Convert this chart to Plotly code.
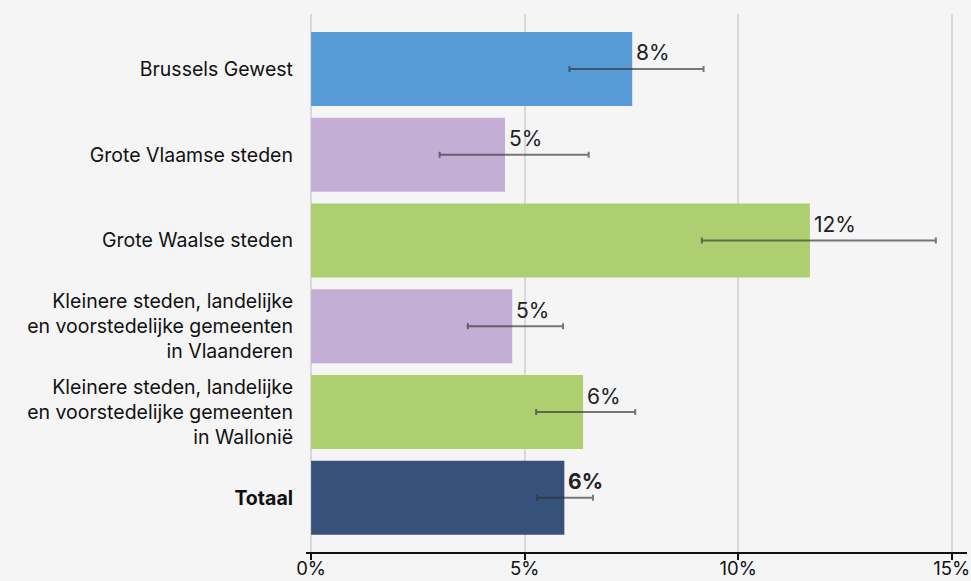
import plotly.graph_objects as go

categories = [
    "Brussels Gewest",
    "Grote Vlaamse steden",
    "Grote Waalse steden",
    "Kleinere steden, landelijke en voorstedelijke gemeenten in Vlaanderen",
    "Kleinere steden, landelijke en voorstedelijke gemeenten in Wallonië",
    "Totaal",
]
tick_labels = [
    "Brussels Gewest",
    "Grote Vlaamse steden",
    "Grote Waalse steden",
    "Kleinere steden, landelijke<br>en voorstedelijke gemeenten<br>in Vlaanderen",
    "Kleinere steden, landelijke<br>en voorstedelijke gemeenten<br>in Wallonië",
    "<b>Totaal</b>",
]
values = [7.52, 4.54, 11.68, 4.71, 6.37, 5.93]
ci_low = [6.05, 3.01, 9.15, 3.67, 5.27, 5.29]
ci_high = [9.19, 6.50, 14.63, 5.90, 7.59, 6.60]
value_labels = ["8%", "5%", "12%", "5%", "6%", "<b>6%</b>"]
colors = ["#579bd6", "#c3aed5", "#aecf6f", "#c3aed5", "#aecf6f", "#36517a"]
x_ticks = [0, 5, 10, 15]
x_tick_labels = ["0%", "5%", "10%", "15%"]

err_plus = [h - v for h, v in zip(ci_high, values)]
err_minus = [v - l for v, l in zip(values, ci_low)]

FONT = "Inter"

fig = go.Figure()
fig.add_trace(go.Bar(
    x=values,
    y=categories,
    orientation="h",
    marker=dict(color=colors, line=dict(width=0)),
    error_x=dict(type="data", symmetric=False, array=err_plus, arrayminus=err_minus,
                 color="rgba(50,50,50,0.65)", thickness=2, width=3),
    hoverinfo="skip",
))

for c, v, t in zip(categories, values, value_labels):
    fig.add_annotation(x=v, y=c, text=t, showarrow=False, xanchor="left", yanchor="middle",
                       xshift=2, yshift=16, font=dict(family=FONT, size=21, color="#222222"))

fig.update_layout(
    width=971, height=581,
    paper_bgcolor="#f5f5f5", plot_bgcolor="#f5f5f5",
    margin=dict(l=306, r=4, t=14, b=29, autoexpand=False),
    bargap=0.137,
    showlegend=False,
    font=dict(family=FONT, size=19.5, color="#111111"),
)
fig.update_xaxes(
    range=[-0.12, 15.36],
    tickvals=x_ticks, ticktext=x_tick_labels,
    showgrid=True, gridcolor="#d9d9d9", gridwidth=2,
    zeroline=False,
    showline=True, linecolor="#111111", linewidth=2,
    ticks="outside", ticklen=6, tickwidth=2, tickcolor="#111111",
    tickfont=dict(family=FONT, size=18.5, color="#111111"),
    ticklabelstandoff=-7,
    automargin=False,
    fixedrange=True,
)
fig.update_yaxes(
    type="category",
    categoryorder="array", categoryarray=categories,
    range=[5.632, -0.641],
    tickvals=categories, ticktext=tick_labels,
    showgrid=False, zeroline=False, showline=False,
    ticks="", ticklabelstandoff=12,
    tickfont=dict(family=FONT, size=19.5, color="#111111"),
    automargin=False,
    fixedrange=True,
)

fig.write_html("out.html", config={"displayModeBar": False},
               post_script="document.body.style.margin='0';document.body.style.background='#f5f5f5';")
